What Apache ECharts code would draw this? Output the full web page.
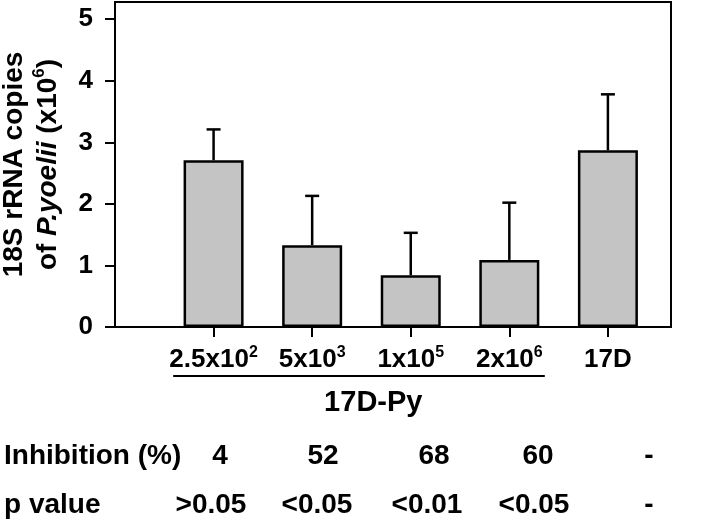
<!DOCTYPE html>
<html>
<head>
<meta charset="utf-8">
<script src="https://cdn.jsdelivr.net/npm/echarts@6/dist/echarts.min.js"></script>
<style>
html,body{margin:0;padding:0;background:#fff;}
#c{width:720px;height:523px;}
</style>
</head>
<body>
<div id="c"></div>
<script>
// ---- data ----
var categoryBase = ['2.5x10', '5x10', '1x10', '2x10', '17D'];
var categorySup  = ['2', '3', '5', '6', ''];
var means        = [2.71, 1.33, 0.84, 1.09, 2.87];
var errors       = [0.50, 0.80, 0.69, 0.93, 0.91];
var yTicks       = [0, 1, 2, 3, 4, 5];
var groupLabel   = '17D-Py';
var inhibitionLabel = 'Inhibition (%)';
var inhibition   = ['4', '52', '68', '60', '-'];
var pLabel       = 'p value';
var pValues      = ['>0.05', '<0.05', '<0.01', '<0.05', '-'];

// ---- layout (pixels) ----
var inhibitionX = [220, 323, 434, 538, 649];
var pValueX     = [211, 317, 427, 534, 649];
var rowY        = [456, 505];

var xPos = categoryBase.map(function (c, i) { return i + 1; });
var barData = xPos.map(function (x, i) { return [x, means[i]]; });
var errData = xPos.map(function (x, i) { return [x, means[i], errors[i]]; });

var chart = echarts.init(document.getElementById('c'), null, {renderer: 'canvas'});
var FONT = 'Liberation Sans, Arial, sans-serif';

var option = {
  animation: false,
  backgroundColor: '#fff',
  grid: {left: 115, right: 49, top: 2, bottom: 196, outerBoundsMode: 'none', containLabel: false,
         show: true, borderColor: '#000', borderWidth: 2, backgroundColor: 'transparent'},
  xAxis: {
    type: 'value', min: 0, max: 5.64,
    axisLine: {show: true, lineStyle: {color: '#000', width: 2}},
    splitLine: {show: false},
    axisTick: {show: true, customValues: xPos, length: 10, inside: false, lineStyle: {color: '#000', width: 2}},
    axisLabel: {
      customValues: xPos, margin: 18, color: '#000',
      formatter: function (v) {
        var i = Math.round(v) - 1;
        var s = '{b|' + categoryBase[i] + '}';
        if (categorySup[i]) s += '{s|' + categorySup[i] + '}';
        return s;
      },
      rich: {
        b: {fontSize: 26, fontWeight: 'bold', fontFamily: FONT, color: '#000', lineHeight: 30},
        s: {fontSize: 16, fontWeight: 'bold', fontFamily: FONT, color: '#000', verticalAlign: 'top', lineHeight: 16}
      }
    }
  },
  yAxis: {
    type: 'value', min: 0, max: 5.28,
    axisLine: {show: true, lineStyle: {color: '#000', width: 2}},
    splitLine: {show: false},
    axisTick: {show: true, customValues: yTicks, length: 10, lineStyle: {color: '#000', width: 2}},
    axisLabel: {customValues: yTicks, margin: 22, fontSize: 26, fontWeight: 'bold', fontFamily: FONT, color: '#000'},
    name: '{a|18S rRNA copies}\n{a|of }{i|P.yoelii}{a| (x10}{s|6}{a|)}',
    nameLocation: 'middle', nameRotate: 90, nameGap: 50,
    nameTextStyle: {
      color: '#000', fontSize: 28, fontWeight: 'bold', fontFamily: FONT, lineHeight: 34,
      rich: {
        a: {fontSize: 28, fontWeight: 'bold', fontFamily: FONT, color: '#000', lineHeight: 34},
        i: {fontSize: 28, fontWeight: 'bold', fontStyle: 'italic', fontFamily: FONT, color: '#000', lineHeight: 34},
        s: {fontSize: 17, fontWeight: 'bold', fontFamily: FONT, color: '#000', verticalAlign: 'top', lineHeight: 20}
      }
    }
  },
  series: [
    {
      type: 'custom', z: 1,
      data: errData,
      renderItem: function (params, api) {
        var x = api.value(0), m = api.value(1), e = api.value(2);
        var p0 = api.coord([x, m]);
        var p1 = api.coord([x, m + e]);
        var half = 7;
        var st = {stroke: '#000', lineWidth: 2.5};
        return {
          type: 'group',
          children: [
            {type: 'line', shape: {x1: p0[0], y1: p0[1], x2: p1[0], y2: p1[1]}, style: st},
            {type: 'line', shape: {x1: p1[0] - half, y1: p1[1], x2: p1[0] + half, y2: p1[1]}, style: st}
          ]
        };
      }
    },
    {
      type: 'bar', z: 2,
      data: barData,
      barWidth: 60,
      itemStyle: {color: '#c4c4c4', borderColor: '#000', borderWidth: 2.5}
    }
  ]
};
chart.setOption(option);

function buildGraphics() {
  var axisY = chart.convertToPixel({yAxisIndex: 0}, 0);
  var xa = chart.convertToPixel({xAxisIndex: 0}, 0.59);
  var xb = chart.convertToPixel({xAxisIndex: 0}, 4.36);
  var xc = chart.convertToPixel({xAxisIndex: 0}, 2.62);
  var els = [
    {type: 'line', shape: {x1: xa, y1: axisY + 49, x2: xb, y2: axisY + 49}, style: {stroke: '#000', lineWidth: 2}},
    {type: 'text', x: xc, y: axisY + 76, style: {text: groupLabel, font: 'bold 29px ' + FONT, fill: '#000', align: 'center', verticalAlign: 'middle'}},
    {type: 'text', x: 4, y: rowY[0], style: {text: inhibitionLabel, font: 'bold 28px ' + FONT, fill: '#000', align: 'left', verticalAlign: 'middle'}},
    {type: 'text', x: 4, y: rowY[1], style: {text: pLabel, font: 'bold 28px ' + FONT, fill: '#000', align: 'left', verticalAlign: 'middle'}}
  ];
  inhibition.forEach(function (t, i) {
    els.push({type: 'text', x: inhibitionX[i], y: rowY[0], style: {text: t, font: 'bold 28px ' + FONT, fill: '#000', align: 'center', verticalAlign: 'middle'}});
  });
  pValues.forEach(function (t, i) {
    els.push({type: 'text', x: pValueX[i], y: rowY[1], style: {text: t, font: 'bold 28px ' + FONT, fill: '#000', align: 'center', verticalAlign: 'middle'}});
  });
  chart.setOption({graphic: {elements: els}});
}
buildGraphics();
</script>
</body>
</html>
